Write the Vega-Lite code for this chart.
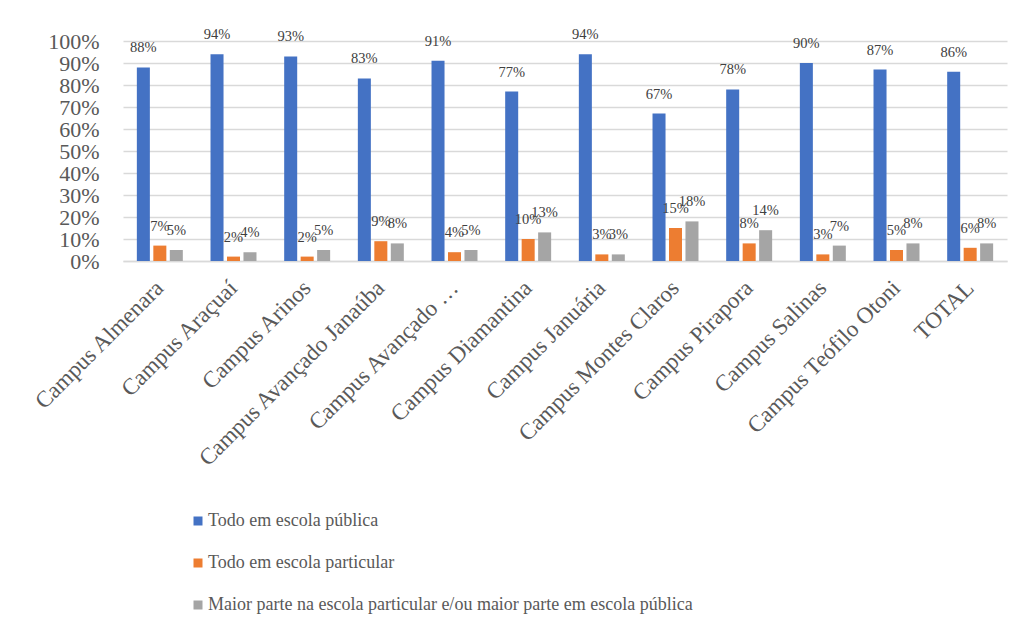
{
  "$schema": "https://vega.github.io/schema/vega-lite/v6.json",
  "width": 884,
  "height": 220,
  "autosize": {"type": "none"},
  "padding": {"left": 123, "top": 41, "right": 20, "bottom": 371},
  "background": "white",
  "config": {"view": {"stroke": null}, "font": "Liberation Serif"},
  "data": {
    "values": [
      {"campus": "Campus Almenara", "serie": "Todo em escola pública", "valor": 0.88},
      {"campus": "Campus Almenara", "serie": "Todo em escola particular", "valor": 0.07},
      {"campus": "Campus Almenara", "serie": "Maior parte na escola particular e/ou maior parte em escola pública", "valor": 0.05},
      {"campus": "Campus Araçuaí", "serie": "Todo em escola pública", "valor": 0.94},
      {"campus": "Campus Araçuaí", "serie": "Todo em escola particular", "valor": 0.02},
      {"campus": "Campus Araçuaí", "serie": "Maior parte na escola particular e/ou maior parte em escola pública", "valor": 0.04},
      {"campus": "Campus Arinos", "serie": "Todo em escola pública", "valor": 0.93},
      {"campus": "Campus Arinos", "serie": "Todo em escola particular", "valor": 0.02},
      {"campus": "Campus Arinos", "serie": "Maior parte na escola particular e/ou maior parte em escola pública", "valor": 0.05},
      {"campus": "Campus Avançado Janaúba", "serie": "Todo em escola pública", "valor": 0.83},
      {"campus": "Campus Avançado Janaúba", "serie": "Todo em escola particular", "valor": 0.09},
      {"campus": "Campus Avançado Janaúba", "serie": "Maior parte na escola particular e/ou maior parte em escola pública", "valor": 0.08},
      {"campus": "Campus Avançado …", "serie": "Todo em escola pública", "valor": 0.91},
      {"campus": "Campus Avançado …", "serie": "Todo em escola particular", "valor": 0.04},
      {"campus": "Campus Avançado …", "serie": "Maior parte na escola particular e/ou maior parte em escola pública", "valor": 0.05},
      {"campus": "Campus Diamantina", "serie": "Todo em escola pública", "valor": 0.77},
      {"campus": "Campus Diamantina", "serie": "Todo em escola particular", "valor": 0.10},
      {"campus": "Campus Diamantina", "serie": "Maior parte na escola particular e/ou maior parte em escola pública", "valor": 0.13},
      {"campus": "Campus Januária", "serie": "Todo em escola pública", "valor": 0.94},
      {"campus": "Campus Januária", "serie": "Todo em escola particular", "valor": 0.03},
      {"campus": "Campus Januária", "serie": "Maior parte na escola particular e/ou maior parte em escola pública", "valor": 0.03},
      {"campus": "Campus Montes Claros", "serie": "Todo em escola pública", "valor": 0.67},
      {"campus": "Campus Montes Claros", "serie": "Todo em escola particular", "valor": 0.15},
      {"campus": "Campus Montes Claros", "serie": "Maior parte na escola particular e/ou maior parte em escola pública", "valor": 0.18},
      {"campus": "Campus Pirapora", "serie": "Todo em escola pública", "valor": 0.78},
      {"campus": "Campus Pirapora", "serie": "Todo em escola particular", "valor": 0.08},
      {"campus": "Campus Pirapora", "serie": "Maior parte na escola particular e/ou maior parte em escola pública", "valor": 0.14},
      {"campus": "Campus Salinas", "serie": "Todo em escola pública", "valor": 0.90},
      {"campus": "Campus Salinas", "serie": "Todo em escola particular", "valor": 0.03},
      {"campus": "Campus Salinas", "serie": "Maior parte na escola particular e/ou maior parte em escola pública", "valor": 0.07},
      {"campus": "Campus Teófilo Otoni", "serie": "Todo em escola pública", "valor": 0.87},
      {"campus": "Campus Teófilo Otoni", "serie": "Todo em escola particular", "valor": 0.05},
      {"campus": "Campus Teófilo Otoni", "serie": "Maior parte na escola particular e/ou maior parte em escola pública", "valor": 0.08},
      {"campus": "TOTAL", "serie": "Todo em escola pública", "valor": 0.86},
      {"campus": "TOTAL", "serie": "Todo em escola particular", "valor": 0.06},
      {"campus": "TOTAL", "serie": "Maior parte na escola particular e/ou maior parte em escola pública", "valor": 0.08}
    ]
  },
  "encoding": {
    "x": {
      "field": "campus",
      "type": "nominal",
      "sort": null,
      "scale": {"paddingInner": 0.376, "paddingOuter": 0.188},
      "axis": {
        "title": null,
        "labelAngle": -45,
        "labelAlign": "right",
        "labelBaseline": "middle",
        "labelFontSize": 23,
        "labelFont": "Liberation Serif",
        "labelColor": "#595959",
        "labelLimit": 400,
        "labelOverlap": false,
        "ticks": false,
        "tickSize": 0,
        "labelPadding": 23,
        "domainColor": "#d9d9d9",
        "domainWidth": 1.5
      }
    },
    "xOffset": {
      "field": "serie",
      "type": "nominal",
      "sort": ["Todo em escola pública", "Todo em escola particular", "Maior parte na escola particular e/ou maior parte em escola pública"],
      "scale": {"paddingInner": 0.21, "paddingOuter": 0}
    },
    "y": {
      "field": "valor",
      "type": "quantitative",
      "scale": {"domain": [0, 1]},
      "axis": {
        "title": null,
        "format": ".0%",
        "values": [0, 0.1, 0.2, 0.3, 0.4, 0.5, 0.6, 0.7, 0.8, 0.9, 1],
        "labelOverlap": false,
        "domain": false,
        "ticks": false,
        "tickSize": 0,
        "labelPadding": 24,
        "labelFontSize": 22,
        "labelFont": "Liberation Serif",
        "labelColor": "#595959",
        "gridColor": "#d9d9d9",
        "gridWidth": 1.5
      }
    }
  },
  "layer": [
    {
      "mark": {"type": "bar"},
      "encoding": {
        "color": {
          "field": "serie",
          "type": "nominal",
          "scale": {
            "domain": ["Todo em escola pública", "Todo em escola particular", "Maior parte na escola particular e/ou maior parte em escola pública"],
            "range": ["#4472C4", "#ED7D31", "#A5A5A5"]
          },
          "legend": {
            "orient": "none",
            "legendX": 66,
            "legendY": 471,
            "direction": "vertical",
            "title": null,
            "padding": 0,
            "labelFontSize": 18,
            "labelFont": "Liberation Serif",
            "labelColor": "#595959",
            "labelLimit": 700,
            "labelOffset": 1,
            "symbolType": "square",
            "symbolSize": 81,
            "symbolStrokeWidth": 0,
            "rowPadding": 24
          }
        }
      }
    },
    {
      "mark": {"type": "text", "dy": -15, "baseline": "alphabetic", "fontSize": 14.5, "font": "Liberation Serif", "color": "#404040"},
      "encoding": {
        "text": {"field": "valor", "type": "quantitative", "format": ".0%"}
      }
    }
  ]
}
